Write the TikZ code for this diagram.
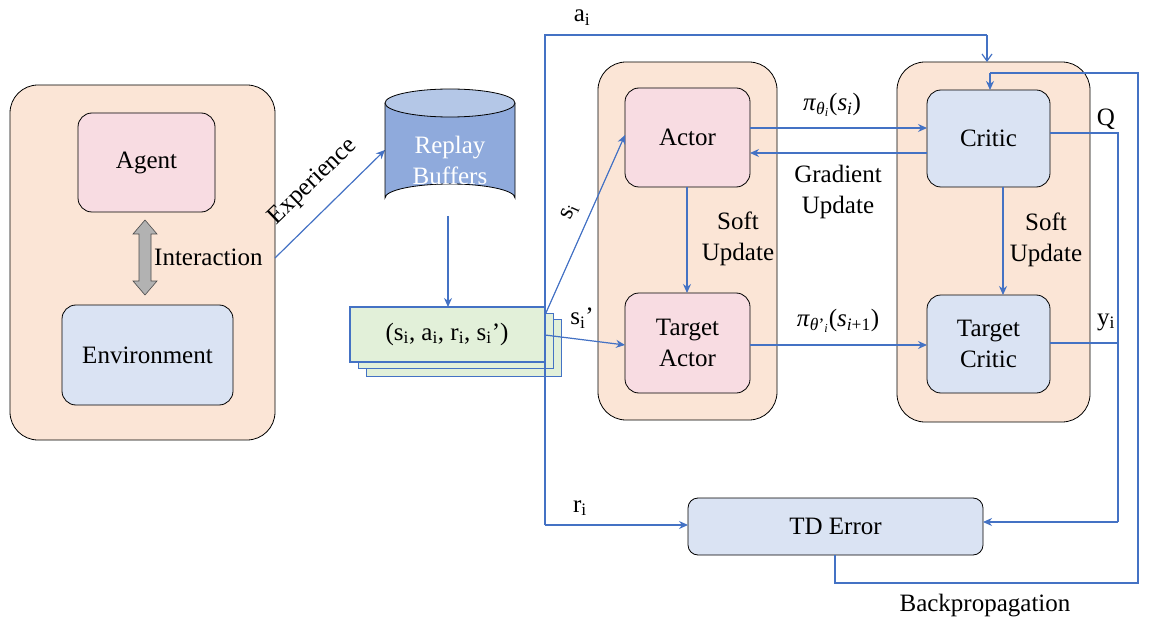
\RequirePackage{fix-cm}
\documentclass[tikz,border=0pt]{standalone}
\usepackage{fontspec}
\setmainfont{Liberation Serif}
\usetikzlibrary{arrows.meta}
\definecolor{peach}{HTML}{FBE5D6}
\definecolor{pinkf}{HTML}{F8DCE2}
\definecolor{bluef}{HTML}{DAE3F3}
\definecolor{greenf}{HTML}{E2F0D9}
\definecolor{lineb}{HTML}{4472C4}
\definecolor{cylb}{HTML}{8FAADC}
\definecolor{cylt}{HTML}{B4C7E7}
\begin{document}
\begin{tikzpicture}[x=1pt,y=-1pt,
  every node/.style={font=\fontsize{25}{29}\selectfont},
  ml/.style={align=center,font=\fontsize{25}{31}\selectfont},
  outer/.style={draw=black,fill=peach,rounded corners=28pt,line width=0.8pt},
  inner/.style={draw=black,rounded corners=14pt,line width=0.8pt},
  conn/.style={draw=lineb,line width=1.2pt},
  arr/.style={conn,-{Stealth[length=9pt,width=8pt]}},
  lbl/.style={inner sep=1pt}]
\useasboundingbox (0,0) rectangle (1153,628);
% left group
\draw[outer] (10,85) rectangle (275,440);
\draw[inner,fill=pinkf] (78,113) rectangle (215,212);
\node at (146.5,162.5) (agent) {Agent};
\draw[inner,fill=bluef] (62,305) rectangle (233,405);
\node at (147.5,355) (env) {Environment};
\draw[fill=gray!60,draw=gray!60!black,line width=0.6pt]
 (145,220) -- (157,234) -- (151,234) -- (151,281) -- (157,281) -- (145,295) -- (133,281) -- (139,281) -- (139,234) -- (133,234) -- cycle;
\node[lbl,anchor=west] at (153,257) {Interaction};
% experience
\coordinate (expS) at (275,258);
\coordinate (expE) at (385,150);
\draw[arr] (expS) -- (expE);
\node[lbl,rotate=44] at (313,182) {Experience};
% cylinder
\draw[fill=cylb,line width=0.8pt] (385,103) -- (385,198) arc[start angle=180,end angle=360,x radius=65,y radius=14] -- (515,103);
\draw[fill=cylt,line width=0.8pt] (450,103) ellipse[x radius=65,y radius=14];
\node[ml,text=white] (rb) at (450,160) {Replay\\Buffers};
% stacked boxes
\draw[draw=lineb,fill=greenf,line width=1pt] (366,319) rectangle (561,376);
\draw[draw=lineb,fill=greenf,line width=1pt] (358,313) rectangle (553,368);
\draw[draw=lineb,fill=greenf,line width=1.2pt] (350,307) rectangle (545,362);
\node (exp) at (447,334) {(s\textsubscript{i}, a\textsubscript{i}, r\textsubscript{i}, s\textsubscript{i}’)};
\draw[arr] (448,216) -- (448,307);
% middle group
\draw[outer] (598,62) rectangle (777,420);
\draw[inner,fill=pinkf] (625,88) rectangle (750,187);
\node (actor) at (687.5,137.5) {Actor};
\draw[inner,fill=pinkf] (625,293) rectangle (750,393);
\node[ml] (tactor) at (687.5,343) {Target\\Actor};
% right group
\draw[outer] (897,62) rectangle (1090,422);
\draw[inner,fill=bluef] (927,90) rectangle (1050,187);
\node (critic) at (988.5,138.5) {Critic};
\draw[inner,fill=bluef] (927,295) rectangle (1050,393);
\node[ml] (tcritic) at (988.5,344) {Target\\Critic};
% TD error
\draw[inner,fill=bluef,rounded corners=10pt] (688,498) rectangle (983,555);
\node (td) at (835.5,526.5) {TD Error};
% s_i arrows
\draw[arr] (545,315) -- (625,135);
\node[lbl,rotate=66] at (570,212) {s\textsubscript{i}};
\draw[arr] (545,335) -- (625,345);
\node[lbl] at (582,318) {s\textsubscript{i}’};
% actor <-> critic
\draw[arr] (750,128) -- (927,128);
\node[lbl] at (832,105) {\textit{π}\textsubscript{\textit{θ}\textsubscript{\textit{i}}}(\textit{s}\textsubscript{\textit{i}})};
\draw[arr] (927,153) -- (750,153);
\node[lbl,ml] at (838,192) {Gradient\\Update};
% soft updates
\draw[arr] (687,187) -- (687,293);
\node[lbl,ml] at (738,239) {Soft\\Update};
\draw[arr] (1003,187) -- (1003,295);
\node[lbl,ml] at (1046,240) {Soft\\Update};
% target actor -> target critic
\draw[arr] (750,345) -- (927,345);
\node[lbl] at (838,321) {\textit{π}\textsubscript{\textit{θ}'\textsubscript{\textit{i}}}(\textit{s}\textsubscript{\textit{i}+1})};
% a_i / r_i line
\draw[conn] (545,525) -- (545,35) -- (987,35);
\draw[conn,-{Straight Barb[length=7pt,width=10pt]}] (987,35) -- (987,62);
\node[lbl] at (582,18) {a\textsubscript{i}};
\draw[arr] (545,525) -- (688,525);
\node[lbl] at (580,508) {r\textsubscript{i}};
% Q and y
\draw[conn] (1050,133) -- (1118,133) -- (1118,522);
\draw[arr] (1118,522) -- (983,522);
\node[lbl] at (1106,119) {Q};
\draw[conn] (1050,343) -- (1118,343);
\node[lbl] at (1106,322) {y\textsubscript{i}};
% backprop
\draw[conn] (835,555) -- (835,583) -- (1138,583) -- (1138,73) -- (990,73);
\draw[arr] (990,73) -- (990,90);
\node[lbl] at (985,606) {Backpropagation};
\end{tikzpicture}
\end{document}
